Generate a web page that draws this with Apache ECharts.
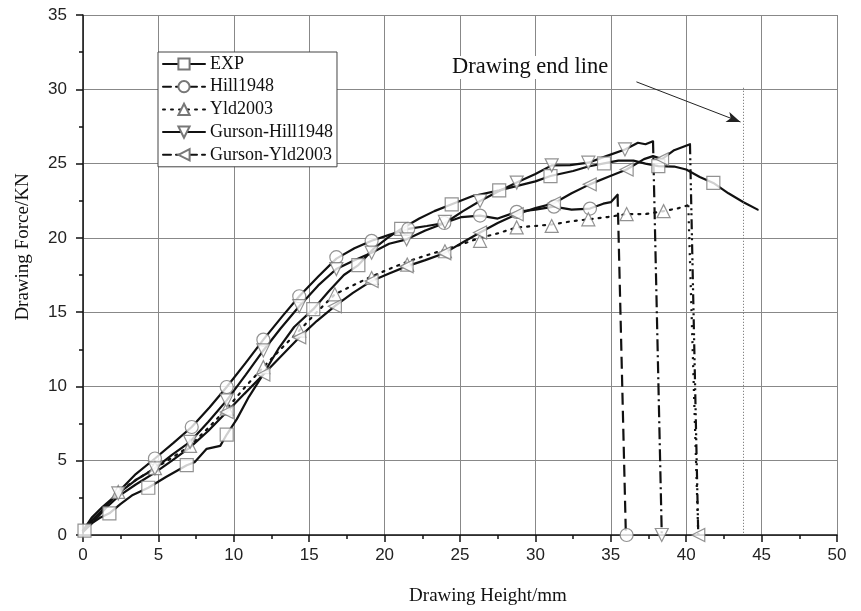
<!DOCTYPE html>
<html>
<head>
    <meta charset="utf-8">
    <script src="https://cdn.jsdelivr.net/npm/echarts@6/dist/echarts.min.js"></script>
</head>
<body style="margin: 0; background: #fff">
    <div id="main" style="width: 861px; height: 611px"></div>
    <script type="text/javascript">
        // curves, [height mm, force kN]
        var expCurve = [[0, 0.2], [0.1, 0.3], [0.6, 0.8], [1.2, 1.2], [1.75, 1.46], [2.5, 2.1], [3.3, 2.7], [4.33, 3.18],
            [5.5, 3.9], [6.88, 4.7], [7.4, 4.9], [8.2, 5.8], [9.1, 6.0], [9.53, 6.76], [10.2, 7.8], [11, 9.3], [12, 10.9],
            [13, 12.6], [14, 14.0], [15.27, 15.2], [16.3, 16.4], [17.3, 17.5], [18.26, 18.17], [19.3, 19.3], [20.2, 20.0],
            [21.1, 20.6], [22.3, 21.3], [23.3, 21.8], [24.45, 22.26], [25.8, 22.8], [27.6, 23.2], [28.8, 23.5], [30, 23.8],
            [31.0, 24.16], [32.5, 24.5], [33.5, 24.8], [34.55, 25.01], [35.5, 25.2], [36.5, 25.2], [37.3, 25.0], [38.15, 24.83],
            [39.2, 24.8], [40.0, 24.6], [40.9, 24.1], [41.8, 23.7], [42.8, 23.0], [43.8, 22.4], [44.74, 21.9]];
        var expMarks = [[0.1, 0.3], [1.75, 1.46], [4.33, 3.18], [6.88, 4.7], [9.53, 6.76], [15.27, 15.2], [18.26, 18.17],
            [21.1, 20.6], [24.45, 22.26], [27.6, 23.2], [31.0, 24.16], [34.55, 25.01], [38.15, 24.83], [41.8, 23.7]];

        var hillCurve = [[0, 0.3], [0.5, 0.9], [1.2, 1.6], [2.34, 2.9], [3.5, 4.1], [4.77, 5.15], [6, 6.2], [7.21, 7.27],
            [8.4, 8.6], [9.53, 9.96], [10.8, 11.6], [11.96, 13.15], [13.2, 14.7], [14.34, 16.07], [15.6, 17.4], [16.8, 18.6],
            [18, 19.3], [19.14, 19.8], [20.3, 20.2], [21.57, 20.6], [22.8, 20.8], [23.96, 21.0], [25.1, 21.4], [26.33, 21.5],
            [27.5, 21.3], [28.76, 21.75], [30, 21.9], [31.23, 22.1], [32.4, 21.9], [33.62, 21.97], [34.5, 22.3], [35.0, 22.4],
            [35.45, 22.9]];
        var hillDrop = [[35.45, 22.9], [36.0, 0]];
        var hillMarks = [[4.77, 5.15], [7.21, 7.27], [9.53, 9.96], [11.96, 13.15], [14.34, 16.07], [16.8, 18.7], [19.14, 19.8],
            [21.57, 20.6], [23.96, 21.0], [26.33, 21.5], [28.76, 21.75], [31.23, 22.1], [33.62, 21.97], [36.05, 0]];

        var yldCurve = [[0, 0.3], [0.8, 1.1], [1.5, 1.9], [2.34, 2.9], [3.5, 3.7], [4.77, 4.5], [5.9, 5.2], [7.1, 6.0],
            [8.3, 7.2], [9.53, 8.5], [10.7, 9.9], [11.96, 11.3], [13.1, 12.5], [14.34, 13.76], [15.5, 15.0], [16.7, 16.2],
            [17.9, 16.8], [19.14, 17.4], [20.3, 17.9], [21.5, 18.4], [22.7, 18.8], [24, 19.2], [25.2, 19.6], [26.33, 20.0],
            [27.5, 20.3], [28.76, 20.7], [30, 20.8], [31.08, 20.9], [32.3, 21.1], [33.51, 21.25], [34.8, 21.4], [36.05, 21.6],
            [37.3, 21.6], [38.5, 21.8], [39.5, 22.0], [40.14, 22.2]];
        var yldDrop = [[40.14, 22.2], [40.8, 0]];
        var yldMarks = [[2.34, 2.9], [4.77, 4.5], [7.1, 6.0], [9.53, 8.5], [11.96, 11.3], [14.34, 13.76], [16.7, 16.2],
            [19.14, 17.3], [21.5, 18.2], [24, 19.1], [26.33, 19.8], [28.76, 20.7], [31.08, 20.8], [33.51, 21.25], [36.05, 21.6],
            [38.5, 21.8]];

        var gHillCurve = [[0, 0.3], [0.6, 1.2], [1.3, 1.9], [2.34, 2.8], [3.5, 3.7], [4.77, 4.48], [5.9, 5.4], [7.1, 6.27],
            [8.3, 7.6], [9.53, 9.06], [10.8, 10.8], [11.96, 12.42], [13.1, 13.9], [14.34, 15.4], [15.6, 16.8], [16.8, 17.9],
            [18, 18.5], [19.14, 19.0], [20.3, 19.6], [21.46, 19.9], [22.7, 20.5], [24.0, 21.0], [25.2, 21.8], [26.33, 22.48],
            [27.5, 23.1], [28.76, 23.72], [30, 24.3], [31.08, 24.88], [32.3, 24.9], [33.51, 25.06], [34.7, 25.5], [35.94, 25.95],
            [36.8, 26.4], [37.3, 26.3], [37.8, 26.5]];
        var gHillDrop = [[37.8, 26.5], [38.38, 0]];
        var gHillMarks = [[2.34, 2.8], [4.77, 4.48], [7.1, 6.27], [9.53, 9.06], [11.96, 12.42], [14.34, 15.4], [16.8, 17.9],
            [19.14, 19.0], [21.46, 19.9], [24.0, 21.07], [26.33, 22.48], [28.76, 23.72], [31.08, 24.88], [33.51, 25.06],
            [35.94, 25.95], [38.38, 0]];

        var gYldCurve = [[0, 0.3], [0.8, 1.0], [1.5, 1.8], [2.34, 2.6], [3.5, 3.4], [4.77, 4.2], [5.9, 5.0], [7.1, 5.9],
            [8.3, 7.0], [9.53, 8.28], [10.7, 9.5], [11.96, 10.8], [13.1, 12.0], [14.34, 13.3], [15.5, 14.4], [16.7, 15.4],
            [17.9, 16.3], [19.14, 17.1], [20.3, 17.6], [21.46, 18.08], [22.7, 18.5], [23.96, 18.97], [25.2, 19.7], [26.33, 20.36],
            [27.5, 21.0], [28.76, 21.59], [30, 22.0], [31.23, 22.33], [32.4, 23.0], [33.6, 23.6], [34.8, 24.1], [36.05, 24.6],
            [37.2, 25.3], [37.8, 25.5], [38.4, 25.3], [39.2, 25.9], [40.25, 26.3]];
        var gYldDrop = [[40.25, 26.3], [40.8, 0]];
        var gYldMarks = [[9.53, 8.28], [11.96, 10.8], [14.34, 13.3], [16.7, 15.4], [19.14, 17.1], [21.46, 18.08], [23.96, 18.97],
            [26.33, 20.36], [28.76, 21.59], [31.23, 22.33], [33.6, 23.6], [36.05, 24.6], [38.4, 25.3], [40.8, 0]];

        // end line and arrow
        var endLine = [[43.75, 30.1], [43.75, 0]];
        var endArrow = [[36.7, 30.5], [43.6, 27.8]];

        var serif = '"Liberation Serif", "Times New Roman", serif';
        var markStyle = { color: '#fff', borderColor: '#777', borderWidth: 1.2 };

        function curve(name, data, symbol, rotate, lineType) {
            return {
                name: name,
                type: 'line',
                data: data,
                symbol: symbol,
                symbolRotate: rotate,
                showSymbol: false,
                z: 3,
                lineStyle: { color: '#111', width: 2.2, type: lineType, cap: 'round' },
                itemStyle: markStyle
            };
        }
        function marks(data, symbol, rotate) {
            return {
                type: 'scatter',
                data: data,
                symbol: symbol,
                symbolSize: 13,
                symbolRotate: rotate,
                z: 4,
                itemStyle: markStyle,
                silent: true
            };
        }
        function drop(data, lineType) {
            return {
                type: 'line',
                data: data,
                symbol: 'none',
                z: 3,
                lineStyle: { color: '#111', width: 2.2, type: lineType }
            };
        }

        var myChart = echarts.init(document.getElementById('main'), null, { renderer: 'canvas' });
        var option = {
            backgroundColor: '#fff',
            animation: false,
            grid: { left: 83, right: 24, top: 15, bottom: 74 },
            legend: {
                orient: 'vertical',
                left: 158,
                top: 52,
                itemWidth: 42,
                itemHeight: 14,
                itemGap: 4.7,
                padding: [3, 4, 3, 4],
                borderColor: '#444',
                borderWidth: 1,
                backgroundColor: '#fff',
                textStyle: { fontFamily: serif, fontSize: 18, color: '#111' },
                data: [
                    { name: 'EXP' },
                    { name: 'Hill1948', lineStyle: { type: [8, 5] } },
                    { name: 'Yld2003', lineStyle: { type: [2, 6] } },
                    { name: 'Gurson-Hill1948' },
                    { name: 'Gurson-Yld2003', lineStyle: { type: [8, 5] } }
                ]
            },
            xAxis: {
                type: 'value',
                min: 0,
                max: 50,
                interval: 5,
                name: 'Drawing Height/mm',
                nameLocation: 'middle',
                nameGap: 52,
                nameTextStyle: { fontFamily: serif, fontSize: 19, color: '#111', padding: [0, 0, 0, 56] },
                axisLine: { lineStyle: { color: '#111', width: 1.5 } },
                axisTick: { length: 7, lineStyle: { color: '#111', width: 1.5 } },
                minorTick: { show: true, splitNumber: 2, length: 4, lineStyle: { color: '#111', width: 1.5 } },
                axisLabel: { fontFamily: '"Liberation Sans", Arial, sans-serif', fontSize: 17, color: '#222', margin: 12 },
                splitLine: { show: true, lineStyle: { color: '#888', width: 1 } }
            },
            yAxis: {
                type: 'value',
                min: 0,
                max: 35,
                interval: 5,
                name: 'Drawing Force/KN',
                nameLocation: 'middle',
                nameGap: 50,
                nameTextStyle: { fontFamily: serif, fontSize: 19, color: '#111', padding: [0, 0, 0, 56] },
                axisLine: { lineStyle: { color: '#111', width: 1.5 } },
                axisTick: { length: 7, lineStyle: { color: '#111', width: 1.5 } },
                minorTick: { show: true, splitNumber: 2, length: 4, lineStyle: { color: '#111', width: 1.5 } },
                axisLabel: { fontFamily: '"Liberation Sans", Arial, sans-serif', fontSize: 17, color: '#222', margin: 16 },
                splitLine: { show: true, lineStyle: { color: '#888', width: 1 } }
            },
            graphic: [{
                type: 'text',
                left: 452,
                top: 56,
                z: 10,
                style: {
                    text: 'Drawing end line',
                    font: '22.5px ' + serif,
                    fill: '#111',
                    backgroundColor: '#fff'
                }
            }],
            series: [
                curve('EXP', expCurve, 'rect', 0, 'solid'),
                curve('Hill1948', hillCurve, 'circle', 0, 'solid'),
                curve('Yld2003', yldCurve, 'triangle', 0, [2, 6]),
                curve('Gurson-Hill1948', gHillCurve, 'triangle', 180, 'solid'),
                curve('Gurson-Yld2003', gYldCurve, 'triangle', 90, 'solid'),
                drop(hillDrop, [12, 6]),
                drop(gHillDrop, [12, 4, 2, 4]),
                drop(yldDrop, [2, 6]),
                drop(gYldDrop, [10, 4, 2, 3, 2, 4]),
                marks(expMarks, 'rect', 0),
                marks(hillMarks, 'circle', 0),
                marks(yldMarks, 'triangle', 0),
                marks(gHillMarks, 'triangle', 180),
                marks(gYldMarks, 'triangle', 90),
                {
                    type: 'line',
                    data: [],
                    silent: true,
                    markLine: {
                        silent: true,
                        animation: false,
                        label: { show: false },
                        data: [
                            [{ coord: endLine[0], symbol: 'none', lineStyle: { color: '#666', width: 1, type: [1, 2] } },
                             { coord: endLine[1], symbol: 'none' }],
                            [{ coord: endArrow[0], symbol: 'none', lineStyle: { color: '#222', width: 1, type: 'solid' } },
                             { coord: endArrow[1], symbol: 'arrow', symbolSize: [8, 14] }]
                        ]
                    }
                }
            ]
        };
        myChart.setOption(option);
        window.addEventListener('resize', myChart.resize);
    </script>
</body>
</html>
